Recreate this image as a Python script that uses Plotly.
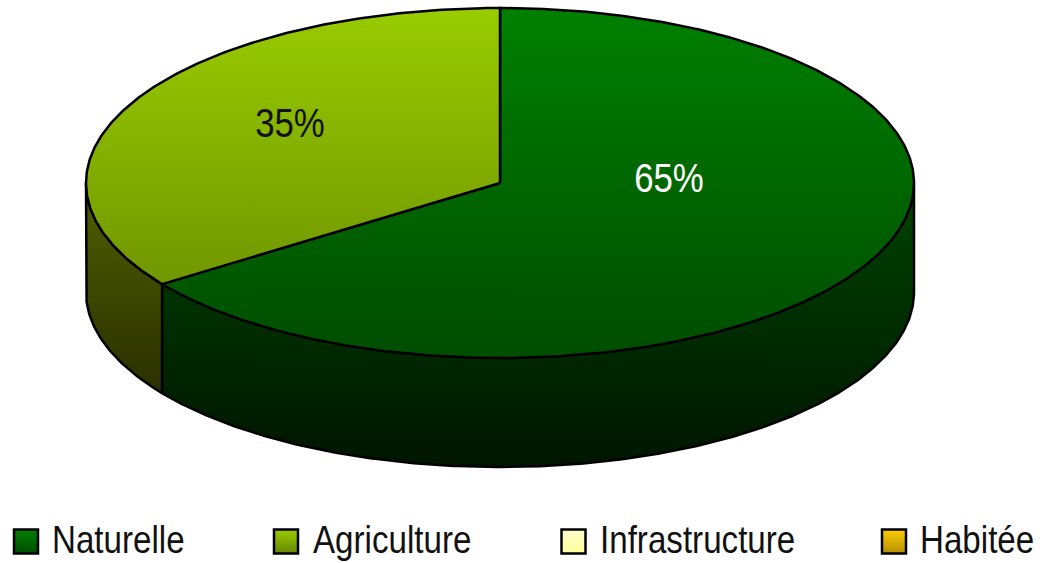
import numpy as np
import plotly.graph_objects as go

# Data
categories = ["Naturelle", "Agriculture", "Infrastructure", "Habitée"]
shares = [65.2, 34.8, 0, 0]
labels = ["65%", "35%"]
label_colors = ["white", "#111111"]

# Colours: (top, bottom)
top_colors = [("#008000", "#004d00"), ("#99cc00", "#668800")]
side_colors = [("#004400", "#001500"), ("#506000", "#1c1f00")]
legend_colors = [("#008000", "#004d00"), ("#99cc00", "#668800"), ("#ffffcc", "#ffff99"), ("#ffcc00", "#b38f00")]

# Layout of the projected disc (pixel space)
CX, CY, RX, RY, DEPTH = 500, 183, 414, 175, 109
label_pos = [(669, 182), (290, 127)]
legend_box_x = [26, 286, 573.5, 894]
legend_text_x = [52, 313, 600, 920]
LEGEND_Y = 541.5
LEGEND_TEXT_Y = 543
FONT = "Liberation Sans Narrow, Arial Narrow, Liberation Sans"

# The reference uses a narrow face; condense the real text to the same width
POST = """
document.documentElement.style.margin='0';
document.body.style.margin='0';
document.body.style.overflow='hidden';
setTimeout(function(){
  document.querySelectorAll('.textpoint text').forEach(function(t){
    var k = t.textContent.indexOf('%') >= 0 ? 0.87 : 0.85;
    var x = parseFloat(t.getAttribute('x')) || 0;
    t.setAttribute('transform','translate('+x+',0) scale('+k+',1) translate('+(-x)+',0)');
  });
}, 50);
"""


def rim(a0, a1, dy=0.0):
    t = np.radians(np.linspace(a0, a1, max(int(abs(a1 - a0) * 2), 2)))
    return CX + RX * np.sin(t), CY - RY * np.cos(t) + dy


def grad(c, y0, y1):
    return dict(type="vertical", colorscale=[[0, c[0]], [1, c[1]]], start=y0, stop=y1)


fig = go.Figure()
LINE = dict(color="black", width=2.5)

angles = np.cumsum([0] + shares) * 3.6
# front walls
for i in range(2):
    a0, a1 = angles[i], angles[i + 1]
    lo, hi = max(a0, 90), min(a1, 270)
    if hi <= lo:
        continue
    xt, yt = rim(lo, hi)
    xb, yb = rim(hi, lo, DEPTH)
    fig.add_trace(go.Scatter(
        x=np.r_[xt, xb, xt[0]], y=np.r_[yt, yb, yt[0]], mode="lines", line=LINE,
        fill="toself", fillgradient=grad(side_colors[i], CY, CY + RY + DEPTH),
        hoverinfo="skip", showlegend=False))
# top faces
for i in range(2):
    x, y = rim(angles[i], angles[i + 1])
    fig.add_trace(go.Scatter(
        x=np.r_[CX, x, CX], y=np.r_[CY, y, CY], mode="lines", line=LINE,
        fill="toself", fillgradient=grad(top_colors[i], CY - RY, CY + RY),
        hoverinfo="skip", showlegend=False))
# percentage labels
for lab, col, (lx, ly) in zip(labels, label_colors, label_pos):
    fig.add_trace(go.Scatter(x=[lx], y=[ly], mode="text", text=[lab],
                             textfont=dict(family=FONT, size=40, color=col),
                             textposition="middle center", hoverinfo="skip", showlegend=False))
# legend
for name, c, bx, tx in zip(categories, legend_colors, legend_box_x, legend_text_x):
    fig.add_trace(go.Scatter(
        x=[bx], y=[LEGEND_Y], mode="markers", hoverinfo="skip", showlegend=False,
        marker=dict(symbol="square", size=24, color=c[0],
                    gradient=dict(type="vertical", color=c[1]),
                    line=dict(color="black", width=2.5))))
    fig.add_trace(go.Scatter(x=[tx], y=[LEGEND_TEXT_Y], mode="text", text=[name],
                             textfont=dict(family=FONT, size=39, color="#111111"),
                             textposition="middle right", hoverinfo="skip", showlegend=False))

fig.update_layout(
    width=1040, height=563, margin=dict(l=0, r=0, t=0, b=0),
    paper_bgcolor="white", plot_bgcolor="white",
    xaxis=dict(range=[0, 1040], visible=False, fixedrange=True),
    yaxis=dict(range=[563, 0], visible=False, fixedrange=True),
)
fig.write_html("out.html", config={"displayModeBar": False}, post_script=POST)
